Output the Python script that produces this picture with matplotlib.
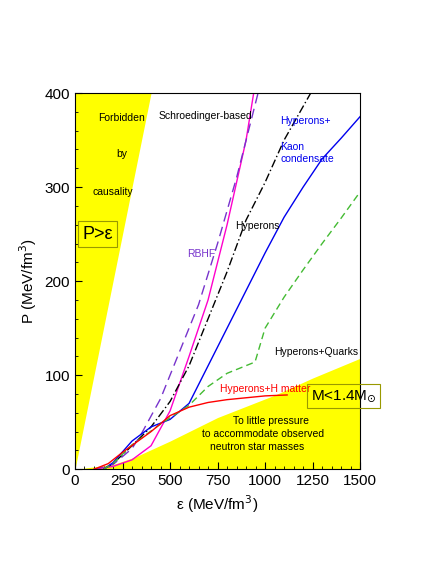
import numpy as np
import matplotlib
matplotlib.use("Agg")
import matplotlib.pyplot as plt
from matplotlib.ticker import MultipleLocator

plt.rcParams["font.family"] = ["Liberation Sans", "DejaVu Sans"]

# data (eps in MeV/fm^3, P in MeV/fm^3)
causal_eps = [0, 400]
causal_p = [0, 400]

low_eps = [0, 200, 316, 500, 750, 1053, 1250, 1500]
low_p = [0, 5, 13, 30, 55, 79, 97, 118]

schr_eps = [100, 200, 300, 400, 500, 600, 700, 800, 900, 940]
schr_p = [0, 3, 10, 25, 62, 120, 180, 260, 350, 400]

rbhf_eps = [100, 200, 300, 350, 450, 550, 650, 750, 850, 963]
rbhf_p = [0, 5, 22, 38, 75, 125, 175, 240, 310, 400]

hyp_eps = [150, 200, 300, 400, 500, 600, 700, 800, 900, 1000, 1100, 1240]
hyp_p = [0, 6, 25, 45, 72, 110, 160, 210, 265, 305, 350, 400]

kaon_eps = [150, 200, 300, 400, 500, 600, 700, 800, 900, 1000, 1100, 1200, 1300, 1400, 1500]
kaon_p = [0, 7, 30, 45, 53, 70, 110, 150, 190, 230, 268, 300, 330, 352, 375]

quark_eps = [150, 200, 300, 450, 600, 700, 800, 947, 1000, 1100, 1200, 1300, 1400, 1500]
quark_p = [0, 6, 26, 48, 68, 88, 102, 114, 150, 183, 212, 240, 267, 295]

hmat_eps = [100, 175, 250, 400, 500, 600, 700, 800, 900, 1000, 1116]
hmat_p = [0, 6, 18, 40, 57, 66, 71, 74, 76, 78, 79]

fig = plt.figure(figsize=(4.36, 5.64), dpi=100)
ax = fig.add_axes([0.172, 0.168, 0.654, 0.667])

ax.fill_between(causal_eps, causal_p, 400, color="yellow", lw=0)
ax.fill_between(low_eps, 0, low_p, color="yellow", lw=0)

ax.plot(schr_eps, schr_p, color="#ff00cc", lw=1)
ax.plot(rbhf_eps, rbhf_p, color="#7733cc", lw=1, ls=(0, (7, 4)))
ax.plot(hyp_eps, hyp_p, color="black", lw=1, ls=(0, (6, 2, 1, 2)))
ax.plot(kaon_eps, kaon_p, color="#0000ee", lw=1)
ax.plot(quark_eps, quark_p, color="#44bb33", lw=1, ls=(0, (5, 3)))
ax.plot(hmat_eps, hmat_p, color="red", lw=1)

fs = 7.5
ax.text(245, 370, "Forbidden", fontsize=fs, ha="center")
ax.text(245, 332, "by", fontsize=fs, ha="center")
ax.text(200, 292, "causality", fontsize=fs, ha="center")
ax.text(40, 250, "P>\u03b5", fontsize=13, va="center",
        bbox=dict(facecolor="none", edgecolor="#999900", lw=0.8, pad=3))
ax.text(440, 372, "Schroedinger-based", fontsize=fs)
ax.text(1080, 367, "Hyperons+", fontsize=fs, color="#0000ee")
ax.text(1080, 348, "Kaon\ncondensate", fontsize=fs, color="#0000ee", linespacing=1.2, va="top")
ax.text(840, 255, "Hyperons", fontsize=fs)
ax.text(590, 226, "RBHF", fontsize=fs, color="#7733cc")
ax.text(1050, 122, "Hyperons+Quarks", fontsize=fs)
ax.text(765, 82, "Hyperons+H matter", fontsize=fs, color="red")
ax.text(1240, 78, "M<1.4M$_{\\odot}$", fontsize=11, va="center",
        bbox=dict(facecolor="none", edgecolor="#999900", lw=0.8, pad=3))
ax.text(1030, 48, "To little pressure", fontsize=fs, ha="center")
ax.text(990, 34, "to accommodate observed", fontsize=fs, ha="center")
ax.text(960, 20, "neutron star masses", fontsize=fs, ha="center")

ax.set_xlim(0, 1500)
ax.set_ylim(0, 400)
ax.xaxis.set_major_locator(MultipleLocator(250))
ax.xaxis.set_minor_locator(MultipleLocator(50))
ax.yaxis.set_major_locator(MultipleLocator(100))
ax.yaxis.set_minor_locator(MultipleLocator(20))
ax.tick_params(which="both", direction="in", top=False, right=False, labelsize=11)
ax.tick_params(which="major", length=5)
ax.tick_params(which="minor", length=2.5)
ax.set_xlabel("\u03b5 (MeV/fm$^3$)", fontsize=11)
ax.set_ylabel("P (MeV/fm$^3$)", fontsize=11)

fig.savefig("out.png", dpi=100)
